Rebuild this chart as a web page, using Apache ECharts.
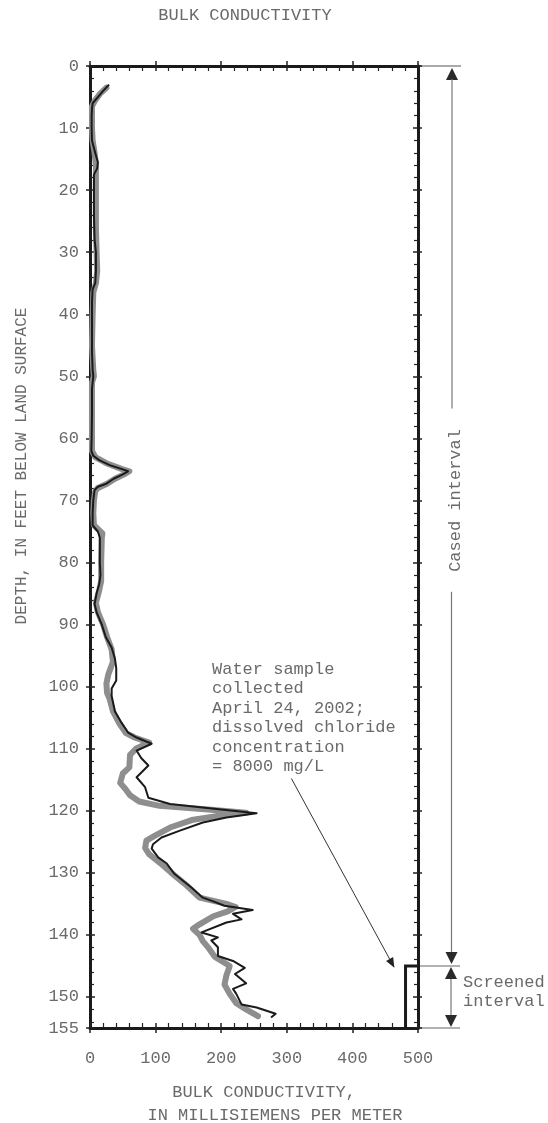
<!DOCTYPE html>
<html>
<head>
<meta charset="utf-8">
<script src="https://cdn.jsdelivr.net/npm/echarts@6/dist/echarts.min.js"></script>
<style>
  html, body { margin: 0; padding: 0; background: #fff; }
  #chart { width: 548px; height: 1123px; }
</style>
</head>
<body>
<div id="chart"></div>
<script>
// Induction log: bulk conductivity (mS/m) against depth (ft below land surface)
const depthMin = 0;
const depthMax = 155;
const depthStep = 10;
const condMin = 0;
const condMax = 500;
const condStep = 100;

// Earlier logging run (wide grey trace)
const grayDepth = [3.5, 4.5, 5.5, 6.5, 10, 12, 14, 16, 18, 22, 26, 30, 33, 35, 36.5, 40, 45, 49, 50, 51, 56, 60, 62,
  63, 64, 65, 65.3, 65.8, 66.5, 67.3, 68, 68.5, 70, 72, 74, 75.3, 76, 80, 83, 84.5, 86.5, 88, 90, 92, 94, 96, 98,
  99.5, 101, 102, 104, 106, 107.5, 108.2, 109, 110, 111, 113, 114, 115.5, 116.5, 117.5, 118.5, 119.2, 119.8, 120.3,
  120.9, 121.5, 122.7, 124, 124.8, 126, 127, 128.5, 130, 132, 134, 135, 135.5, 136.2, 137, 138.3, 139, 140, 141,
  142, 143.5, 145, 146.5, 148, 149.5, 151, 152, 153.1];
const grayCond = [25, 15, 8, 3, 3, 4, 7, 9, 9, 9, 9, 10, 11, 9, 5, 4, 3, 5, 6, 3, 3, 3, 3,
  8, 25, 50, 60, 52, 38, 26, 12, 8, 6, 5, 6, 19, 18, 17, 17, 14, 9, 12, 20, 26, 33, 35, 28,
  25, 26, 30, 35, 45, 55, 68, 90, 70, 61, 60, 50, 46, 54, 61, 75, 106, 180, 238,
  190, 155, 122, 99, 86, 84, 90, 108, 124, 147, 167, 208, 222, 210, 188, 167, 157, 167, 172,
  180, 190, 213, 208, 205, 213, 223, 238, 256];

// Later logging run (thin black trace)
const blackDepth = [3, 4, 5, 6, 7, 8, 10, 12, 14, 15.5, 16.5, 17.5, 20, 24, 28, 30, 33, 35, 36, 38, 42, 46, 49, 50,
  52, 56, 60, 62, 62.8, 63.5, 64.3, 65, 65.3, 65.8, 66.5, 67.3, 67.8, 68.3, 70, 72, 74, 75, 76, 78, 80, 82, 83.5,
  85, 86.7, 88, 90, 92, 93.7, 95.5, 97, 99, 100.3, 101.5, 103, 104, 105.8, 107.4, 108.2, 109.2, 110.3, 111.5,
  112.7, 114.6, 116.2, 117.9, 118.9, 119.7, 120.4, 121.1, 121.9, 123.2, 124.3, 125.4, 126.1, 127.5, 128.5, 130.2,
  132.4, 134, 134.6, 135.3, 136, 136.6, 137.5, 138, 139.6, 140.4, 140.9, 142, 143.4, 144.2, 145.3, 146.3, 147.8,
  148.7, 149.5, 151.2, 151.7, 152.7, 153.3];
const blackCond = [29, 20, 12, 4, 3, 2.5, 2.5, 3, 8, 12, 11, 6, 6, 6, 7, 9, 9, 8, 4, 3, 3, 3, 4, 5,
  3, 3, 2.5, 2, 5, 14, 30, 50, 58, 50, 36, 25, 12, 7, 5, 4, 4, 12, 15, 15, 15, 16, 14,
  10, 7, 10, 18, 24, 33, 38, 40, 40, 33, 33, 36, 38, 48, 58, 71, 94, 71, 78,
  89, 71, 84, 89, 122, 193, 254, 208, 172, 137, 109, 96, 94, 104, 117, 129,
  155, 172, 188, 205, 248, 218, 231, 208, 170, 195, 185, 195, 195, 218, 236, 221, 238,
  218, 223, 231, 254, 283, 276];

// Well construction
const casingTop = 0;
const screenTop = 145;
const screenBottom = 155;
const screenCond = 481;

// Water-sample note and the depth its arrow points to
const noteLines = ['Water sample', 'collected', 'April 24, 2002;', 'dissolved chloride', 'concentration', '= 8000 mg/L'];
const noteArrowFrom = [307, 114.8];
const noteArrowTo = [464, 145.3];

const FONT = '"Liberation Mono", "DejaVu Sans Mono", monospace';
const TEXT = '#6a6a6a';
const INK = '#1a1a1a';

const pairs = (ds, vs) => ds.map((d, i) => [vs[i], d]);

function xAxis(position, inside, labels) {
  return {
    type: 'value', position, min: condMin, max: condMax, interval: condStep,
    axisLine: { show: inside, onZero: false, lineStyle: { color: INK, width: 3 } },
    axisTick: { show: true, inside, length: 5, lineStyle: { color: '#222', width: 1.5 } },
    minorTick: { show: inside, splitNumber: 5, length: 5, lineStyle: { color: '#222', width: 1.2 } },
    splitLine: { show: false },
    axisLabel: { show: labels, color: TEXT, fontFamily: FONT, fontSize: 17, margin: 22 }
  };
}
function yAxis(position, inside, labels) {
  return {
    type: 'value', position, inverse: true, min: depthMin, max: depthMax, interval: depthStep,
    axisLine: { show: inside, onZero: false, lineStyle: { color: INK, width: 3 } },
    axisTick: { show: true, inside, length: inside ? 5 : 4, lineStyle: { color: '#222', width: 1.5 } },
    minorTick: { show: inside, splitNumber: 5, length: 4, lineStyle: { color: '#222', width: 1.2 } },
    splitLine: { show: false },
    axisLabel: { show: labels, color: TEXT, fontFamily: FONT, fontSize: 17, margin: 11,
      verticalAlign: 'middle', padding: [6, 0, 0, 0] }
  };
}

const chart = echarts.init(document.getElementById('chart'), null, { renderer: 'canvas' });

chart.setOption({
  animation: false,
  backgroundColor: '#fff',
  grid: { left: 90, right: 130, top: 66, bottom: 95, containLabel: false },
  xAxis: [xAxis('bottom', true, true), xAxis('bottom', false, false), xAxis('top', true, false), xAxis('top', false, false)],
  yAxis: [yAxis('left', true, true), yAxis('left', false, false), yAxis('right', true, false), yAxis('right', false, false)],
  series: [
    {
      type: 'line', name: 'grey', xAxisIndex: 0, yAxisIndex: 0, data: pairs(grayDepth, grayCond),
      showSymbol: false, symbol: 'none', silent: true,
      lineStyle: { color: '#8e8e8e', width: 6, join: 'round', cap: 'round' }, z: 2
    },
    {
      type: 'line', name: 'black', xAxisIndex: 0, yAxisIndex: 0, data: pairs(blackDepth, blackCond),
      showSymbol: false, symbol: 'none', silent: true,
      lineStyle: { color: INK, width: 2, join: 'round' }, z: 3
    },
    {
      type: 'line', name: 'screen', xAxisIndex: 0, yAxisIndex: 0,
      data: [[condMax, screenTop], [screenCond, screenTop], [screenCond, screenBottom]],
      showSymbol: false, symbol: 'none', silent: true,
      lineStyle: { color: INK, width: 3, join: 'miter' }, z: 4
    }
  ]
});

// Annotations placed from the axis scales
const toX = v => chart.convertToPixel({ xAxisIndex: 0 }, v);
const toY = d => chart.convertToPixel({ yAxisIndex: 0 }, d);
const R = toX(condMax);
const y0 = toY(casingTop), yS = toY(screenTop), yB = toY(screenBottom);
const ax = R + 34;

const seg = (x1, y1, x2, y2, stroke, lw) => ({
  type: 'line', shape: { x1, y1, x2, y2 }, style: { stroke, lineWidth: lw }, silent: true
});
const tri = (x, tipY, dir) => ({
  type: 'polygon', silent: true,
  shape: { points: [[x, tipY], [x - 6, tipY + dir * 12], [x + 6, tipY + dir * 12]] },
  style: { fill: '#2a2a2a' }
});
const label = (x, y, text, opts) => ({
  type: 'text', silent: true, x, y, rotation: (opts && opts.rotation) || 0,
  style: { text, fill: TEXT, font: ((opts && opts.size) || 17) + 'px ' + FONT,
    align: (opts && opts.align) || 'left', verticalAlign: 'middle' }
});

const elements = [];
// title and axis names
elements.push(label(245, 15, 'BULK CONDUCTIVITY', { align: 'center' }));
elements.push(label(264, 1092, 'BULK CONDUCTIVITY,', { align: 'center' }));
elements.push(label(275, 1115, 'IN MILLISIEMENS PER METER', { align: 'center' }));
elements.push(label(22, 466, 'DEPTH, IN FEET BELOW LAND SURFACE', { align: 'center', rotation: Math.PI / 2, size: 16 }));

// reference lines at top of casing, top and bottom of screen
elements.push(seg(R, y0, R + 43, y0, '#555', 1));
elements.push(seg(R, yS, R + 42, yS, '#999', 1.5));
elements.push(seg(R, yB, R + 42, yB, '#999', 1.5));

// cased interval arrow, broken around its label
elements.push(tri(ax, y0 + 2, 1));
elements.push(seg(ax, y0 + 13, ax, toY(55.2), '#777', 1.2));
elements.push(seg(ax - 0.5, toY(84.7), ax - 0.5, yS - 14, '#777', 1.2));
elements.push(tri(ax - 0.5, yS - 2, -1));
elements.push(label(ax + 3, toY(70), 'Cased interval', { align: 'center', rotation: Math.PI / 2 }));

// screened interval arrow and label
const sx = R + 33;
elements.push(tri(sx, yS + 1, 1));
elements.push(seg(sx, yS + 13, sx, yB - 13, '#777', 1.2));
elements.push(tri(sx, yB - 1, -1));
elements.push(label(R + 45, yS + 17, 'Screened'));
elements.push(label(R + 45, yS + 36, 'interval'));

// water-sample note
noteLines.forEach((line, i) => elements.push(label(212, 669 + i * 19.5, line)));
const ax1 = toX(noteArrowFrom[0]), ay1 = toY(noteArrowFrom[1]);
const ax2 = toX(noteArrowTo[0]), ay2 = toY(noteArrowTo[1]);
const ang = Math.atan2(ay2 - ay1, ax2 - ax1);
const hl = 10, hw = 4;
const bx = ax2 - hl * Math.cos(ang), by = ay2 - hl * Math.sin(ang);
elements.push(seg(ax1, ay1, bx, by, '#333', 1));
elements.push({ type: 'polygon', silent: true,
  shape: { points: [[ax2, ay2],
    [bx + hw * Math.sin(ang), by - hw * Math.cos(ang)],
    [bx - hw * Math.sin(ang), by + hw * Math.cos(ang)]] },
  style: { fill: '#222' } });

chart.setOption({ graphic: { elements } });
</script>
</body>
</html>
